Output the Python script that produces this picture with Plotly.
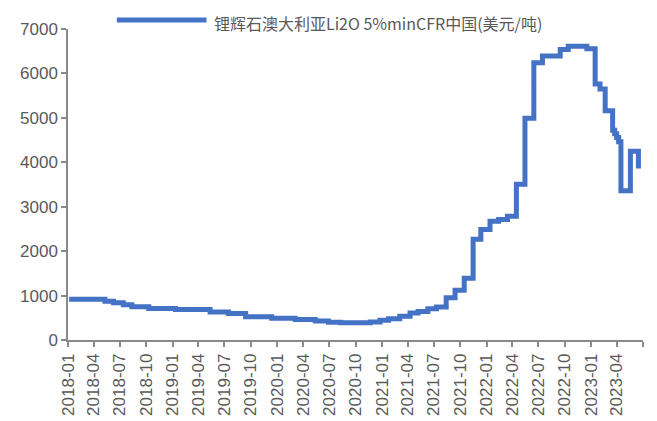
import plotly.graph_objects as go

# Step change points (date, price USD/t)
dates = [
    "2018-01-05", "2018-05-10", "2018-06-09", "2018-07-13", "2018-08-12",
    "2018-10-10", "2019-01-11", "2019-05-12", "2019-07-15", "2019-09-13",
    "2019-12-13", "2020-03-04", "2020-05-13", "2020-06-28", "2020-08-09",
    "2020-11-21", "2020-12-25", "2021-01-24", "2021-03-04", "2021-04-09",
    "2021-05-07", "2021-06-10", "2021-07-10", "2021-08-13", "2021-09-13",
    "2021-10-15", "2021-11-15", "2021-12-12", "2022-01-13", "2022-02-12",
    "2022-03-15", "2022-04-15", "2022-05-15", "2022-06-15", "2022-07-15",
    "2022-09-15", "2022-10-13", "2022-12-17", "2023-01-15", "2023-02-01",
    "2023-02-19", "2023-03-17", "2023-03-24", "2023-03-31", "2023-04-07",
    "2023-04-15", "2023-05-18", "2023-06-15",
]
values = [
    915, 875, 840, 795, 750,
    710, 685, 632, 594, 525,
    490, 460, 425, 400, 386,
    405, 445, 480, 535, 605,
    640, 705, 745, 951, 1120,
    1389, 2266, 2489, 2675, 2712,
    2786, 3507, 4993, 6241, 6390,
    6538, 6613, 6555, 5760, 5650,
    5160, 4720, 4640, 4560, 4460,
    3360, 4250, 3860,
]

tick_vals = [
    "2018-01-01", "2018-04-01", "2018-07-01", "2018-10-01",
    "2019-01-01", "2019-04-01", "2019-07-01", "2019-10-01",
    "2020-01-01", "2020-04-01", "2020-07-01", "2020-10-01",
    "2021-01-01", "2021-04-01", "2021-07-01", "2021-10-01",
    "2022-01-01", "2022-04-01", "2022-07-01", "2022-10-01",
    "2023-01-01", "2023-04-01",
]
tick_text = [
    "2018-01", "2018-04", "2018-07", "2018-10",
    "2019-01", "2019-04", "2019-07", "2019-10",
    "2020-01", "2020-04", "2020-07", "2020-10",
    "2021-01", "2021-04", "2021-07", "2021-10",
    "2022-01", "2022-04", "2022-07", "2022-10",
    "2023-01", "2023-04",
]
series_name = "锂辉石澳大利亚Li2O 5%minCFR中国(美元/吨)"

LINE = "#4472C4"
AXIS = "#898989"
TXT = "#595959"

fig = go.Figure()
fig.add_trace(go.Scatter(
    x=dates, y=values, mode="lines", name=series_name,
    line=dict(color=LINE, width=5, shape="hv"),
    showlegend=False,
))

# page body adds an 8px offset; compensate in margins
OFF = 8
W, H = 657, 421
L, R, T, B = 66 - OFF, 14 + OFF, 26 - OFF, 81 + OFF
pw = W - L - R
ph = H - T - B

def px(x):
    return (x - OFF - L) / pw

def py(y):
    return (H - B - (y - OFF)) / ph

# manual legend
fig.add_shape(type="line", xref="paper", yref="paper",
              x0=px(115), x1=px(205), y0=py(17), y1=py(17),
              line=dict(color=LINE, width=5))
fig.add_annotation(xref="paper", yref="paper", x=px(212), y=py(19.5),
                   xanchor="left", yanchor="middle", showarrow=False,
                   text=series_name, borderpad=0,
                   font=dict(family="Noto Sans CJK SC, Liberation Sans", size=16, color=TXT))

fig.update_layout(
    width=W, height=H,
    margin=dict(l=L, r=R, t=T, b=B),
    paper_bgcolor="white", plot_bgcolor="white",
    font=dict(family="Liberation Sans, Arial", size=17, color=TXT),
    xaxis=dict(
        type="date", range=["2018-01-01", "2023-07-01"],
        tickvals=tick_vals, ticktext=tick_text, tickangle=-90,
        showgrid=False, zeroline=False,
        showline=True, linecolor=AXIS, linewidth=1.5,
        ticks="outside", ticklen=5, tickcolor=AXIS, tickwidth=1.5,
        tickfont=dict(family="Liberation Sans, Arial", size=17, color=TXT),
        minor=dict(tickvals=["2023-07-01"], ticks="outside", ticklen=5,
                   tickcolor=AXIS, tickwidth=1.5),
    ),
    yaxis=dict(
        range=[0, 7000], dtick=1000, tick0=0,
        showgrid=False, zeroline=False,
        showline=True, linecolor=AXIS, linewidth=1.5,
        ticks="outside", ticklen=5, tickcolor=AXIS, tickwidth=1.5,
        tickfont=dict(family="Liberation Sans, Arial", size=17, color=TXT),
    ),
)

fig.write_html("out.html", config={"displayModeBar": False})
